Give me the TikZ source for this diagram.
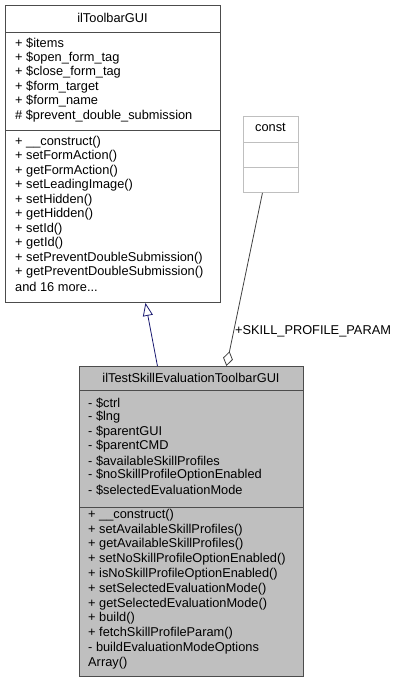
\documentclass[tikz,border=0pt]{standalone}
\usepackage{fontspec}
\setmainfont{Liberation Sans}
\usetikzlibrary{arrows.meta,
    positioning}

\definecolor{edgegray}{HTML}{404040}
\definecolor{boxgray}{HTML}{BFBFBF}
\definecolor{inhblue}{HTML}{191970}

\begin{document}
\begin{tikzpicture}[x=1pt, y=-1pt,
                  cls/.style = {draw=black!70, line width=0.9pt, anchor=north west, inner sep=0pt},
                  member/.style = {anchor=west, inner sep=0pt, font=\fontsize{12.8}{14}\selectfont},
                  title/.style = {inner sep=0pt, font=\fontsize{12.8}{14}\selectfont},
                  inherit/.style = {draw=inhblue, line width=0.8pt, -{Triangle[open, length=13pt, width=10pt]}},
                  aggr/.style = {draw=edgegray, line width=0.8pt, -{Diamond[open, length=15pt, width=10pt]}}
                  ]
\useasboundingbox (0,0) rectangle (405,683);
% base class
\node[cls, minimum width=215pt, minimum height=297pt] (base) at (5,5) {};
\draw[black!70, line width=0.9pt] ([yshift=-27pt]base.north west) -- ([yshift=-27pt]base.north east);
\draw[black!70, line width=0.9pt] ([yshift=-125pt]base.north west) -- ([yshift=-125pt]base.north east);
\node[title] (basename) at (112.5,18) {ilToolbarGUI};
\foreach \t [count=\i from 0] in {+ \$items, + \$open\_form\_tag, + \$close\_form\_tag,
    + \$form\_target, + \$form\_name, \# \$prevent\_double\_submission}
\node[member] (ba\i) at (15,43+14.6*\i) {\t};
\foreach \t [count=\i from 0] in {+ \_\_construct(), + setFormAction(), + getFormAction(),
    + setLeadingImage(), + setHidden(), + getHidden(), + setId(), + getId(),
    + setPreventDoubleSubmission(), + getPreventDoubleSubmission(), and 16 more{.}{.}{.}}
\node[member] (bm\i) at (15,142+14.5*\i) {\t};

% const
\node[cls, draw=boxgray, minimum width=55pt, minimum height=76pt] (const) at (243,116) {};
\draw[boxgray, line width=0.9pt] ([yshift=-26pt]const.north west) -- ([yshift=-26pt]const.north east);
\draw[boxgray, line width=0.9pt] ([yshift=-51pt]const.north west) -- ([yshift=-51pt]const.north east);
\node[title] (constname) at (270.5,127) {const};

% derived class
\node[cls, fill=boxgray, minimum width=224pt, minimum height=310pt] (derived) at (79,366) {};
\draw[black!70, line width=0.9pt] ([yshift=-24pt]derived.north west) -- ([yshift=-24pt]derived.north east);
\draw[black!70, line width=0.9pt] ([yshift=-141pt]derived.north west) -- ([yshift=-141pt]derived.north east);
\node[title] (derivedname) at (191,378) {ilTestSkillEvaluationToolbarGUI};
\foreach \t [count=\i from 0] in {- \$ctrl, - \$lng, - \$parentGUI, - \$parentCMD,
    - \$availableSkillProfiles, - \$noSkillProfileOptionEnabled, - \$selectedEvaluationMode}
\node[member] (da\i) at (88,403+14.5*\i) {\t};
\foreach \t [count=\i from 0] in {+ \_\_construct(), + setAvailableSkillProfiles(),
    + getAvailableSkillProfiles(), + setNoSkillProfileOptionEnabled(),
    + isNoSkillProfileOptionEnabled(), + setSelectedEvaluationMode(),
    + getSelectedEvaluationMode(), + build(), + fetchSkillProfileParam(),
    - buildEvaluationModeOptions, Array()}
\node[member] (dm\i) at (88,515+14.8*\i) {\t};

% relations
\draw[inherit] ([xshift=-34pt]derived.north) -- ([xshift=32.5pt]base.south);
\draw[aggr] ([xshift=-8.5pt]const.south) -- node[pos=0.8, right, inner sep=1pt,
    font=\fontsize{12.8}{14}\selectfont] {+SKILL\_PROFILE\_PARAM} ([xshift=35pt]derived.north);
\end{tikzpicture}
\end{document}
